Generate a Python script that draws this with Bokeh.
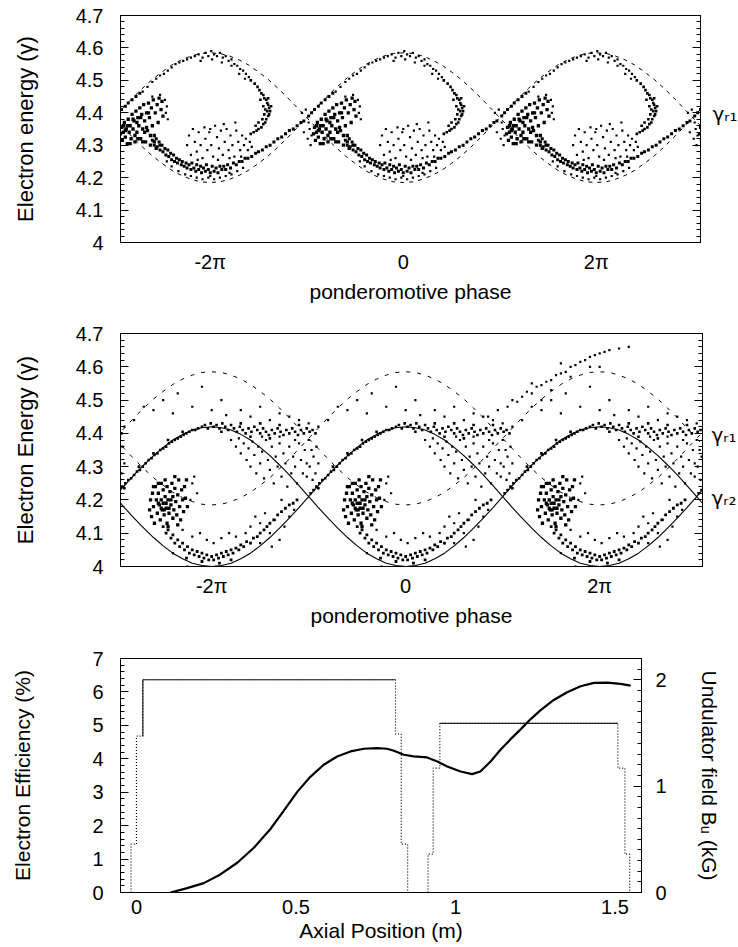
from bokeh.plotting import figure
from bokeh.models import Range1d, LinearAxis, FixedTicker, NumeralTickFormatter
from bokeh.layouts import column
from bokeh.embed import file_html
from bokeh.resources import INLINE

FONT = "Liberation Sans"
TICK_FS = "20px"
TITLE_FS = "21px"

# ---------------- phase-space panels (phase in units of pi) ----------------
PHASE_TICKS = [-2, 0, 2]
PHASE_TICK_LABELS = ["-2π", "0", "2π"]
BUCKET_CENTRES = [-4, -2, 0, 2, 4]
ENERGY_TICKS = [4.0, 4.1, 4.2, 4.3, 4.4, 4.5, 4.6, 4.7]

# separatrix shapes read over one bucket (offset from bucket centre, in pi)
SEP_U = [-1.0, -0.9, -0.8, -0.7, -0.6, -0.5, -0.4, -0.3, -0.2, -0.1, 0.0,
         0.1, 0.2, 0.3, 0.4, 0.5, 0.6, 0.7, 0.8, 0.9, 1.0]
SEP_R1_UP = [4.385, 4.416, 4.447, 4.476, 4.503, 4.526, 4.547, 4.563, 4.575, 4.583, 4.585,
             4.583, 4.575, 4.563, 4.547, 4.526, 4.503, 4.476, 4.447, 4.416, 4.385]
SEP_R1_LO = [4.385, 4.354, 4.323, 4.294, 4.267, 4.244, 4.223, 4.207, 4.195, 4.187, 4.185,
             4.187, 4.195, 4.207, 4.223, 4.244, 4.267, 4.294, 4.323, 4.354, 4.385]
SEP_R2_UP = [4.21, 4.243, 4.275, 4.305, 4.333, 4.358, 4.38, 4.397, 4.41, 4.417, 4.42,
             4.417, 4.41, 4.397, 4.38, 4.358, 4.333, 4.305, 4.275, 4.243, 4.21]
SEP_R2_LO = [4.21, 4.177, 4.145, 4.115, 4.087, 4.062, 4.04, 4.023, 4.01, 4.003, 4.0,
             4.003, 4.01, 4.023, 4.04, 4.062, 4.087, 4.115, 4.145, 4.177, 4.21]
RESONANT_GAMMAS_TOP = [4.395]
RESONANT_LABELS_TOP = ["γᵣ₁"]
RESONANT_GAMMAS_MID = [4.395, 4.207]
RESONANT_LABELS_MID = ["γᵣ₁", "γᵣ₂"]

# top panel electrons, one bucket: (offset, gamma)
TOP_BLOB = [(-0.93, 4.335), (-0.92, 4.355), (-0.91, 4.315), (-0.9, 4.34), (-0.89, 4.37), (-0.88, 4.325),
            (-0.87, 4.35), (-0.86, 4.305), (-0.85, 4.38), (-0.84, 4.34), (-0.83, 4.36), (-0.82, 4.32),
            (-0.81, 4.395), (-0.8, 4.35), (-0.79, 4.375), (-0.78, 4.31), (-0.77, 4.405), (-0.76, 4.34),
            (-0.75, 4.385), (-0.74, 4.36), (-0.73, 4.415), (-0.72, 4.32), (-0.71, 4.395), (-0.7, 4.35),
            (-0.69, 4.425), (-0.68, 4.375), (-0.67, 4.31), (-0.66, 4.40), (-0.65, 4.345), (-0.64, 4.43),
            (-0.63, 4.385), (-0.62, 4.30), (-0.61, 4.415), (-0.6, 4.36), (-0.59, 4.44), (-0.58, 4.33),
            (-0.57, 4.40), (-0.56, 4.29), (-0.55, 4.425), (-0.54, 4.37), (-0.53, 4.445), (-0.52, 4.30),
            (-0.51, 4.41), (-0.5, 4.435), (-0.49, 4.39), (-0.86, 4.36), (-0.78, 4.33), (-0.72, 4.385),
            (-0.66, 4.355), (-0.62, 4.33), (-0.7, 4.31), (-0.8, 4.38), (-0.88, 4.345), (-0.83, 4.305),
            (-0.75, 4.32), (-0.68, 4.34), (-0.64, 4.40), (-0.58, 4.31), (-0.9, 4.36), (-0.76, 4.37)]
TOP_ARM = [(-0.6, 4.315), (-0.58, 4.30), (-0.56, 4.32), (-0.55, 4.295), (-0.53, 4.31), (-0.52, 4.285),
           (-0.5, 4.30), (-0.49, 4.28), (-0.47, 4.29), (-0.46, 4.27), (-0.44, 4.285), (-0.43, 4.265),
           (-0.41, 4.275), (-0.4, 4.255), (-0.38, 4.27), (-0.37, 4.25), (-0.35, 4.26), (-0.34, 4.245),
           (-0.32, 4.255), (-0.3, 4.24), (-0.29, 4.25), (-0.27, 4.235), (-0.25, 4.245), (-0.24, 4.23),
           (-0.22, 4.24), (-0.2, 4.225), (-0.19, 4.245), (-0.17, 4.23), (-0.15, 4.22), (-0.14, 4.24),
           (-0.12, 4.225), (-0.1, 4.235), (-0.09, 4.215), (-0.07, 4.23), (-0.05, 4.22), (-0.04, 4.24),
           (-0.02, 4.225), (0.0, 4.215), (0.02, 4.235), (0.04, 4.22), (0.06, 4.23), (0.08, 4.215),
           (0.1, 4.235), (0.12, 4.225), (0.14, 4.235), (0.16, 4.225), (0.18, 4.24), (0.21, 4.23),
           (0.24, 4.245), (0.27, 4.24), (0.3, 4.25), (0.33, 4.25), (0.36, 4.26),
           (0.39, 4.26), (0.43, 4.265), (0.47, 4.275), (0.5, 4.28), (0.54, 4.285), (0.58, 4.295),
           (0.62, 4.30), (0.66, 4.31), (0.7, 4.32), (0.74, 4.325), (0.78, 4.335), (0.82, 4.345),
           (0.86, 4.35), (0.9, 4.36), (0.94, 4.37), (0.97, 4.375),
           (-0.98, 4.39), (-0.95, 4.40), (-0.92, 4.41), (-0.88, 4.42), (-0.85, 4.43), (-0.81, 4.44),
           (-0.77, 4.45), (-0.73, 4.46)]
TOP_WALL = [(0.42, 4.50), (0.46, 4.49), (0.49, 4.48), (0.51, 4.47), (0.53, 4.46), (0.55, 4.455),
            (0.56, 4.445), (0.58, 4.44), (0.59, 4.43), (0.6, 4.425), (0.61, 4.415), (0.62, 4.405),
            (0.61, 4.395), (0.6, 4.39), (0.58, 4.38), (0.57, 4.37), (0.55, 4.365), (0.53, 4.355),
            (0.5, 4.35), (0.48, 4.345), (0.45, 4.34), (0.42, 4.335), (0.52, 4.44), (0.55, 4.42),
            (0.57, 4.41), (0.59, 4.405), (0.56, 4.395), (0.54, 4.38), (0.5, 4.37), (0.47, 4.36),
            (0.63, 4.42), (0.6, 4.445)]
TOP_SPARSE = [(-0.7, 4.465), (-0.65, 4.48), (-0.6, 4.495), (-0.56, 4.505), (-0.52, 4.515), (-0.48, 4.52),
              (-0.44, 4.53), (-0.4, 4.54), (-0.36, 4.55), (-0.32, 4.555), (-0.28, 4.56), (-0.24, 4.565),
              (-0.2, 4.57), (-0.16, 4.575), (-0.12, 4.58), (-0.08, 4.57), (-0.05, 4.585), (-0.02, 4.575),
              (0.01, 4.59), (0.04, 4.58), (0.07, 4.575), (0.1, 4.585), (0.13, 4.57), (0.16, 4.575),
              (0.19, 4.56), (0.22, 4.565), (0.25, 4.55), (0.28, 4.545), (0.31, 4.535), (0.34, 4.53),
              (0.37, 4.52), (0.4, 4.51), (0.02, 4.565), (-0.1, 4.56), (0.12, 4.555), (0.22, 4.545),
              (0.3, 4.52), (0.36, 4.505),
              (-0.24, 4.30), (-0.22, 4.33), (-0.2, 4.27), (-0.18, 4.35), (-0.16, 4.31), (-0.14, 4.28),
              (-0.12, 4.34), (-0.1, 4.30), (-0.08, 4.26), (-0.06, 4.355), (-0.05, 4.32), (-0.03, 4.285),
              (-0.01, 4.34), (0.01, 4.30), (0.03, 4.265), (0.05, 4.36), (0.07, 4.325), (0.09, 4.29),
              (0.11, 4.345), (0.13, 4.27), (0.15, 4.31), (0.17, 4.35), (0.19, 4.285), (0.21, 4.33),
              (0.23, 4.30), (0.25, 4.265), (0.27, 4.345), (0.29, 4.31), (0.31, 4.285), (0.33, 4.33),
              (0.35, 4.30), (0.37, 4.32), (0.39, 4.285), (0.41, 4.31), (0.43, 4.295), (-0.13, 4.255),
              (0.08, 4.255), (0.2, 4.26), (0.32, 4.265), (0.0, 4.35), (0.14, 4.365), (0.26, 4.37),
              (-0.4, 4.235), (-0.33, 4.22), (-0.26, 4.21), (-0.2, 4.205), (-0.14, 4.2), (-0.08, 4.195),
              (-0.02, 4.2), (0.04, 4.195), (0.1, 4.2), (0.16, 4.205), (0.22, 4.21), (0.28, 4.22),
              (0.34, 4.23), (-0.45, 4.25), (0.0, 4.205), (0.2, 4.215),
              (-0.99, 4.32), (-0.97, 4.35), (-0.96, 4.30), (-0.95, 4.33), (0.97, 4.34), (0.99, 4.41),
              (0.95, 4.40), (-0.98, 4.37), (-0.6, 4.45), (-0.52, 4.455), (-0.47, 4.44), (-0.45, 4.42),
              (-0.46, 4.40), (-0.44, 4.38)]

# middle panel electrons, one bucket: (offset, gamma)
MID_BLOB = [(-0.64, 4.17), (-0.63, 4.2), (-0.62, 4.15), (-0.61, 4.22), (-0.6, 4.18), (-0.59, 4.13),
            (-0.58, 4.24), (-0.57, 4.2), (-0.56, 4.16), (-0.55, 4.22), (-0.54, 4.185), (-0.53, 4.14),
            (-0.52, 4.25), (-0.52, 4.2), (-0.51, 4.17), (-0.5, 4.23), (-0.5, 4.19), (-0.49, 4.155),
            (-0.48, 4.21), (-0.47, 4.175), (-0.46, 4.24), (-0.46, 4.13), (-0.45, 4.2), (-0.44, 4.16),
            (-0.43, 4.225), (-0.42, 4.185), (-0.41, 4.25), (-0.4, 4.145), (-0.4, 4.21), (-0.39, 4.17),
            (-0.38, 4.235), (-0.37, 4.195), (-0.36, 4.155), (-0.35, 4.215), (-0.34, 4.26), (-0.33, 4.18),
            (-0.32, 4.14), (-0.31, 4.23), (-0.3, 4.2), (-0.29, 4.165), (-0.28, 4.24), (-0.27, 4.205),
            (-0.26, 4.26), (-0.25, 4.18), (-0.55, 4.25), (-0.6, 4.24), (-0.48, 4.26), (-0.38, 4.27),
            (-0.45, 4.12), (-0.35, 4.125), (-0.52, 4.175), (-0.47, 4.19), (-0.42, 4.2), (-0.55, 4.19),
            (-0.49, 4.17), (-0.44, 4.175)]
MID_ARM = [(-0.5, 4.12), (-0.47, 4.10), (-0.45, 4.11), (-0.42, 4.085), (-0.4, 4.095), (-0.38, 4.07),
           (-0.35, 4.08), (-0.33, 4.06), (-0.3, 4.07), (-0.28, 4.05), (-0.25, 4.06), (-0.23, 4.04),
           (-0.2, 4.05), (-0.18, 4.035), (-0.15, 4.045), (-0.13, 4.03), (-0.1, 4.04), (-0.08, 4.025),
           (-0.05, 4.035), (-0.03, 4.02), (0.0, 4.03), (0.02, 4.02), (0.05, 4.035), (0.07, 4.025),
           (0.1, 4.04), (0.12, 4.03), (0.15, 4.045), (0.17, 4.035), (0.2, 4.05), (0.22, 4.04),
           (0.25, 4.055), (0.28, 4.05), (0.3, 4.065), (0.33, 4.06), (0.36, 4.075), (0.4, 4.07),
           (0.43, 4.085), (0.47, 4.09), (0.5, 4.10), (0.54, 4.11), (0.57, 4.12), (0.6, 4.13),
           (0.64, 4.14), (0.68, 4.155), (0.72, 4.165), (0.76, 4.175), (0.8, 4.185), (0.84, 4.19),
           (0.88, 4.20), (-0.26, 4.025), (-0.1, 4.015), (0.08, 4.01), (0.2, 4.02)]
MID_BAND = [(-0.1, 4.42), (-0.07, 4.425), (-0.04, 4.415), (-0.01, 4.43), (0.02, 4.42), (0.05, 4.425),
            (0.08, 4.415), (0.11, 4.43), (0.14, 4.42), (0.17, 4.41), (0.2, 4.425), (0.23, 4.415),
            (0.26, 4.405), (0.29, 4.42), (0.32, 4.41), (0.35, 4.4), (0.38, 4.415), (0.41, 4.405),
            (0.44, 4.42), (0.47, 4.41), (0.5, 4.40), (0.53, 4.415), (0.56, 4.405), (0.59, 4.395),
            (0.62, 4.41), (0.65, 4.40), (0.68, 4.415), (0.71, 4.405), (0.74, 4.395), (0.77, 4.41),
            (0.8, 4.40), (0.83, 4.415), (0.86, 4.405), (0.89, 4.395), (0.92, 4.41), (0.95, 4.40),
            (0.98, 4.415), (1.01, 4.405), (1.04, 4.41), (1.07, 4.40), (0.1, 4.405), (0.3, 4.43),
            (0.5, 4.43), (0.7, 4.425), (0.9, 4.425), (0.6, 4.385), (0.4, 4.39),
            (-0.98, 4.22), (-0.95, 4.23), (-0.92, 4.24), (-0.89, 4.25), (-0.86, 4.26), (-0.83, 4.265),
            (-0.8, 4.275), (-0.77, 4.285), (-0.74, 4.29), (-0.71, 4.30), (-0.68, 4.31), (-0.65, 4.32),
            (-0.62, 4.325), (-0.59, 4.335), (-0.56, 4.34), (-0.53, 4.35), (-0.5, 4.355), (-0.47, 4.36),
            (-0.44, 4.37), (-0.41, 4.375), (-0.38, 4.38), (-0.35, 4.385), (-0.32, 4.39), (-0.29, 4.395),
            (-0.26, 4.40), (-0.23, 4.405), (-0.2, 4.41), (-0.17, 4.41), (-0.14, 4.415), (-0.9, 4.235),
            (-0.75, 4.3), (-0.6, 4.34), (-0.45, 4.38), (-0.3, 4.405)]
MID_SPARSE = [(0.2, 4.38), (0.25, 4.36), (0.28, 4.385), (0.3, 4.34), (0.33, 4.37), (0.36, 4.32),
              (0.38, 4.355), (0.4, 4.30), (0.42, 4.375), (0.44, 4.335), (0.46, 4.28), (0.48, 4.36),
              (0.5, 4.31), (0.52, 4.345), (0.54, 4.265), (0.56, 4.38), (0.58, 4.32), (0.6, 4.29),
              (0.62, 4.36), (0.64, 4.25), (0.66, 4.33), (0.68, 4.30), (0.7, 4.37), (0.72, 4.27),
              (0.74, 4.34), (0.76, 4.31), (0.78, 4.24), (0.8, 4.36), (0.82, 4.28), (0.84, 4.33),
              (0.86, 4.30), (0.88, 4.25), (0.9, 4.37), (0.92, 4.32), (0.94, 4.28), (0.96, 4.35),
              (0.98, 4.31), (0.86, 4.38), (0.7, 4.39), (0.52, 4.39),
              (0.45, 4.15), (0.5, 4.13), (0.55, 4.16), (0.6, 4.10), (0.65, 4.14), (0.7, 4.08),
              (0.75, 4.12), (0.8, 4.15), (0.62, 4.06), (0.5, 4.07), (0.4, 4.12), (0.35, 4.10),
              (0.72, 4.2), (0.85, 4.17),
              (-0.3, 4.11), (-0.2, 4.09), (-0.12, 4.1), (-0.05, 4.08), (0.02, 4.07), (0.1, 4.085),
              (0.18, 4.1), (0.25, 4.09), (-0.25, 4.0), (-0.4, 4.04),
              (-0.2, 4.25), (-0.15, 4.22), (-0.22, 4.2), (-0.18, 4.27),
              (-1.0, 4.38), (-0.97, 4.35), (-0.99, 4.3), (-0.95, 4.33), (-0.93, 4.28), (-0.96, 4.26),
              (-0.92, 4.36), (-1.02, 4.27), (-0.9, 4.31),
              (-0.6, 4.47), (-0.5, 4.5), (-0.4, 4.46), (-0.35, 4.52), (-0.2, 4.48), (-0.1, 4.54),
              (0.0, 4.47), (0.1, 4.5), (0.15, 4.455), (0.3, 4.47), (0.4, 4.45), (0.5, 4.48),
              (0.6, 4.44), (0.7, 4.46), (0.8, 4.45), (0.9, 4.44), (1.0, 4.43), (-0.8, 4.44),
              (-0.7, 4.48), (-0.9, 4.42)]
# untrapped stream that rises to the upper right (absolute phase, in pi)
MID_STREAM = [(0.85, 4.45), (0.95, 4.47), (1.05, 4.48), (1.1, 4.5), (1.15, 4.495), (1.2, 4.51),
              (1.25, 4.525), (1.3, 4.52), (1.35, 4.54), (1.4, 4.545), (1.45, 4.555), (1.5, 4.56),
              (1.55, 4.575), (1.6, 4.58), (1.65, 4.585), (1.7, 4.6), (1.75, 4.605), (1.8, 4.615),
              (1.85, 4.62), (1.9, 4.63), (1.95, 4.635), (2.0, 4.64), (2.05, 4.645), (2.1, 4.65),
              (2.2, 4.655), (2.3, 4.66), (1.3, 4.55), (1.5, 4.53), (1.7, 4.57), (1.9, 4.6),
              (1.6, 4.61), (1.4, 4.5), (2.0, 4.6)]

# ---------------- efficiency / undulator panel ----------------
POS_TICKS = [0, 0.5, 1, 1.5]
EFF_Z = [0.107, 0.159, 0.211, 0.263, 0.316, 0.368, 0.420, 0.462, 0.504, 0.545, 0.587, 0.629,
         0.671, 0.713, 0.755, 0.785, 0.807, 0.838, 0.869, 0.911, 0.943, 0.974, 1.016, 1.052,
         1.078, 1.110, 1.141, 1.172, 1.204, 1.235, 1.266, 1.308, 1.350, 1.392, 1.434, 1.476,
         1.517, 1.549]
EFF_PCT = [0.0, 0.13, 0.28, 0.54, 0.89, 1.34, 1.90, 2.45, 3.01, 3.46, 3.82, 4.07,
           4.22, 4.30, 4.32, 4.30, 4.24, 4.12, 4.07, 4.04, 3.92, 3.77, 3.62, 3.54,
           3.62, 3.92, 4.27, 4.58, 4.88, 5.18, 5.45, 5.76, 5.99, 6.17, 6.27, 6.28,
           6.24, 6.19]
FIELD1_Z = [-0.017, -0.017, -0.003, 0.0, 0.0, 0.02, 0.02, 0.812, 0.812, 0.83, 0.83, 0.85, 0.85]
FIELD1_B = [0.0, 0.454, 0.454, 0.454, 1.47, 1.47, 2.0, 2.0, 1.49, 1.49, 0.454, 0.454, 0.0]
FIELD2_Z = [0.914, 0.914, 0.93, 0.93, 0.951, 0.951, 1.509, 1.509, 1.531, 1.531, 1.546, 1.546]
FIELD2_B = [0.0, 0.36, 0.36, 1.17, 1.17, 1.59, 1.59, 1.17, 1.17, 0.36, 0.36, 0.0]


def tile_curve(u, g):
    xs, ys = [], []
    for i, c in enumerate(BUCKET_CENTRES):
        n = len(u) if i == len(BUCKET_CENTRES) - 1 else len(u) - 1
        for k in range(n):
            xs.append(c + u[k])
            ys.append(g[k])
    return xs, ys


def tile_points(pts):
    xs, ys = [], []
    for c in BUCKET_CENTRES:
        for u, g in pts:
            xs.append(c + u)
            ys.append(g)
    return xs, ys


def style_common(p):
    p.outline_line_color = "black"
    p.outline_line_width = 1
    p.xgrid.visible = False
    p.ygrid.visible = False
    p.background_fill_color = "white"
    p.border_fill_color = "white"


def style_axis(ax, font_size=TICK_FS, title_size=TITLE_FS):
    ax.axis_line_color = "black"
    ax.major_label_text_font = FONT
    ax.major_label_text_font_size = font_size
    ax.major_label_text_color = "black"
    ax.axis_label_text_font = FONT
    ax.axis_label_text_font_size = title_size
    ax.axis_label_text_font_style = "normal"
    ax.axis_label_text_color = "black"
    ax.major_tick_out = 0
    ax.minor_tick_out = 0


def energy_ticker():
    minors = [round(4.0 + 0.02 * k, 2) for k in range(36)]
    return FixedTicker(ticks=ENERGY_TICKS, minor_ticks=minors)


def phase_figure(x_end, fh, fw, left, right, bottom, ylabel):
    p = figure(frame_width=fw, frame_height=fh, x_range=Range1d(x_end[0], x_end[1]),
               y_range=Range1d(4.0, 4.7), min_border_left=left, min_border_right=right,
               min_border_top=15, min_border_bottom=bottom,
               output_backend="svg", toolbar_location=None)
    style_common(p)
    xa = p.xaxis[0]
    style_axis(xa)
    xa.ticker = FixedTicker(ticks=PHASE_TICKS, minor_ticks=[])
    xa.major_label_overrides = {t: s for t, s in zip(PHASE_TICKS, PHASE_TICK_LABELS)}
    xa.major_tick_in = 0
    xa.minor_tick_in = 0
    xa.major_label_standoff = 8
    xa.axis_label_standoff = 4
    xa.axis_label = "ponderomotive phase"
    ya = p.yaxis[0]
    style_axis(ya, title_size="22px")
    ya.ticker = energy_ticker()
    ya.formatter = NumeralTickFormatter(format="0.[0]")
    ya.major_tick_in = 8
    ya.minor_tick_in = 4
    ya.major_label_standoff = 17
    ya.axis_label_standoff = 35
    ya.axis_label = ylabel
    ra = LinearAxis(ticker=energy_ticker())
    style_axis(ra, "1px")
    ra.major_label_text_color = None
    ra.major_tick_in = 8
    ra.minor_tick_in = 4
    ra.major_label_standoff = 0
    p.add_layout(ra, "right")
    return p


def resonance_axis(p, gammas, labels, standoff):
    ax = LinearAxis(ticker=FixedTicker(ticks=gammas, minor_ticks=[]))
    ax.major_label_overrides = {g: s for g, s in zip(gammas, labels)}
    ax.axis_line_color = None
    ax.major_tick_in = 0
    ax.major_tick_out = 0
    ax.minor_tick_in = 0
    ax.minor_tick_out = 0
    ax.major_label_text_font = "DejaVu Sans"
    ax.major_label_text_font_size = "20px"
    ax.major_label_text_color = "black"
    ax.major_label_standoff = standoff
    p.add_layout(ax, "right")


# ---------------- top panel ----------------
X1 = (-2.93, 3.08)
p1 = phase_figure(X1, 227, 580, 118, 40, 76, "Electron energy (γ)")
sx, sy = tile_curve(SEP_U, SEP_R1_UP)
p1.line(sx, sy, line_color="black", line_width=1, line_dash="4 5")
sx, sy = tile_curve(SEP_U, SEP_R1_LO)
p1.line(sx, sy, line_color="black", line_width=1, line_dash="4 5")
for pts, size in ((TOP_SPARSE, 2.2), (TOP_WALL, 2.6), (TOP_ARM, 3.0), (TOP_BLOB, 3.3)):
    px, py = tile_points(pts)
    p1.scatter(px, py, marker="square", size=size, fill_color="black", line_color=None)
resonance_axis(p1, RESONANT_GAMMAS_TOP, RESONANT_LABELS_TOP, 12)

# ---------------- middle panel ----------------
X2 = (-2.94, 3.06)
p2 = phase_figure(X2, 233, 582, 120, 36, 77, "Electron Energy (γ)")
sx, sy = tile_curve(SEP_U, SEP_R1_UP)
p2.line(sx, sy, line_color="black", line_width=1, line_dash="4 7")
sx, sy = tile_curve(SEP_U, SEP_R1_LO)
p2.line(sx, sy, line_color="black", line_width=1, line_dash="4 7")
sx, sy = tile_curve(SEP_U, SEP_R2_UP)
p2.line(sx, sy, line_color="black", line_width=1.1)
sx, sy = tile_curve(SEP_U, SEP_R2_LO)
p2.line(sx, sy, line_color="black", line_width=1.1)
for pts, size in ((MID_SPARSE, 2.2), (MID_BAND, 2.6), (MID_ARM, 2.8), (MID_BLOB, 3.3)):
    px, py = tile_points(pts)
    p2.scatter(px, py, marker="square", size=size, fill_color="black", line_color=None)
p2.scatter([u for u, g in MID_STREAM], [g for u, g in MID_STREAM], marker="square", size=2.2,
           fill_color="black", line_color=None)
resonance_axis(p2, RESONANT_GAMMAS_MID, RESONANT_LABELS_MID, 9)

# ---------------- bottom panel ----------------
p3 = figure(frame_width=521, frame_height=234, x_range=Range1d(-0.05, 1.583),
            y_range=Range1d(0, 7), min_border_left=120, min_border_right=97,
            min_border_top=15, min_border_bottom=55,
            output_backend="svg", toolbar_location=None)
style_common(p3)
p3.extra_y_ranges = {"field": Range1d(0, 2.2)}
xa = p3.xaxis[0]
style_axis(xa)
xa.ticker = FixedTicker(ticks=POS_TICKS, minor_ticks=[])
xa.formatter = NumeralTickFormatter(format="0.[0]")
xa.major_tick_in = 0
xa.minor_tick_in = 0
xa.major_label_standoff = 7
xa.axis_label_standoff = 2
xa.axis_label = "Axial Position (m)"
ya = p3.yaxis[0]
style_axis(ya)
ya.ticker = FixedTicker(ticks=list(range(8)), minor_ticks=[round(0.2 * k, 1) for k in range(36)])
ya.major_tick_in = 8
ya.minor_tick_in = 4
ya.major_label_standoff = 17
ya.axis_label_standoff = 55
ya.axis_label = "Electron Efficiency (%)"
ra = LinearAxis(y_range_name="field",
                ticker=FixedTicker(ticks=[0, 1, 2], minor_ticks=[round(0.1 * k, 1) for k in range(23)]))
style_axis(ra)
ra.major_tick_in = 8
ra.minor_tick_in = 4
ra.major_label_standoff = 14
ra.axis_label_standoff = 28
ra.axis_label = "Undulator field Bᵤ (kG)"
p3.add_layout(ra, "right")

p3.line(FIELD1_Z, FIELD1_B, y_range_name="field", line_color="black", line_width=1.2, line_dash="1 2")
p3.line(FIELD2_Z, FIELD2_B, y_range_name="field", line_color="black", line_width=1.2, line_dash="1 2")
p3.line(FIELD1_Z[5:8], FIELD1_B[5:8], y_range_name="field", line_color="#222222", line_width=1.2)
p3.line(FIELD2_Z[5:7], FIELD2_B[5:7], y_range_name="field", line_color="#222222", line_width=1.2)
p3.line(EFF_Z, EFF_PCT, line_color="black", line_width=2.2)

layout = column(p1, p2, p3, spacing=0)
open("out.html", "w").write(file_html(layout, INLINE))
